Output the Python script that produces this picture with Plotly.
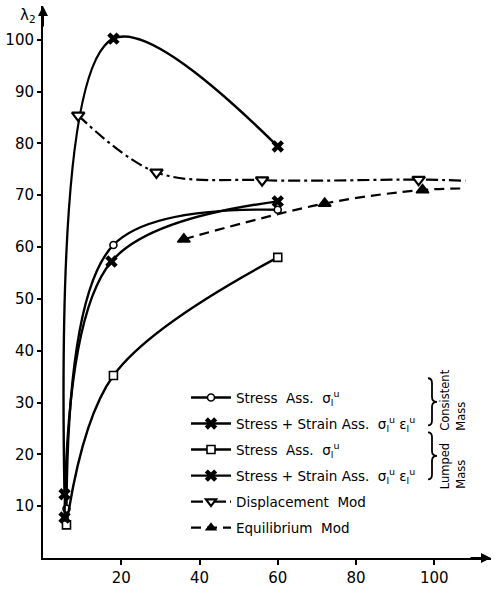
import plotly.graph_objects as go

# ---- data ----
cons_stress_x = [6, 18, 60]
cons_stress_y = [9.5, 60.4, 67.2]
cons_ss_x = [5.5, 18, 60]
cons_ss_y = [12.3, 100.2, 79.4]
lump_stress_x = [6, 18, 60]
lump_stress_y = [6.4, 35.2, 58.0]
lump_ss_x = [5.5, 17.5, 60]
lump_ss_y = [7.8, 57.2, 68.8]
disp_x = [9, 29, 56, 96, 108]
disp_y = [85.4, 74.4, 72.9, 73.0, 72.8]
disp_marked = [1, 1, 1, 1, 0]
equil_x = [36, 72, 97, 108]
equil_y = [61.5, 68.4, 71.0, 71.3]
equil_marked = [1, 1, 1, 0]

x_ticks = [20, 40, 60, 80, 100]
y_ticks = [10, 20, 30, 40, 50, 60, 70, 80, 90, 100]

sig = "σ<sub>l</sub><sup>u</sup>"
eps = "ε<sub>l</sub><sup>u</sup>"
labels = [
    f"Stress  Ass.  {sig}",
    f"Stress + Strain Ass.  {sig} {eps}",
    f"Stress  Ass.  {sig}",
    f"Stress + Strain Ass.  {sig} {eps}",
    "Displacement  Mod",
    "Equilibrium  Mod",
]

# ---- layout geometry ----
W, H = 495, 591
L, R, T, B = 43, 4, 6, 23
PW, PH = W - L - R, H - T - B


def px(xp):
    return (xp - L) / PW


def py(yp):
    return (H - B - yp) / PH


FONT = "DejaVu Sans"
LW = 2.4

fig = go.Figure()

fig.add_trace(go.Scatter(
    x=cons_stress_x, y=cons_stress_y, mode="lines+markers", name=labels[0],
    line=dict(color="black", width=LW, shape="spline"),
    marker=dict(symbol="circle", size=7, color="white", opacity=1,
                line=dict(color="black", width=1.6)),
    legendgroup="g1"))
fig.add_trace(go.Scatter(
    x=cons_ss_x, y=cons_ss_y, mode="lines+markers", name=labels[1],
    line=dict(color="black", width=LW, shape="spline"),
    marker=dict(symbol="x", size=11, color="black", opacity=1, line=dict(width=0)),
    legendgroup="g2"))
fig.add_trace(go.Scatter(
    x=lump_stress_x, y=lump_stress_y, mode="lines+markers", name=labels[2],
    line=dict(color="black", width=LW, shape="spline"),
    marker=dict(symbol="square", size=8, color="white", opacity=1,
                line=dict(color="black", width=1.6)),
    legendgroup="g3"))
fig.add_trace(go.Scatter(
    x=lump_ss_x, y=lump_ss_y, mode="lines+markers", name=labels[3],
    line=dict(color="black", width=LW, shape="spline"),
    marker=dict(symbol="x", size=11, color="black", opacity=1, line=dict(width=0)),
    legendgroup="g4"))
fig.add_trace(go.Scatter(
    x=disp_x, y=disp_y, mode="lines+markers", name=labels[4],
    line=dict(color="black", width=2.2, shape="spline", dash="12px,4px,3px,4px"),
    marker=dict(symbol="triangle-down", size=[11 * m for m in disp_marked], color="white",
                opacity=1, line=dict(color="black", width=2.2)),
    legendgroup="g5"))
fig.add_trace(go.Scatter(
    x=equil_x, y=equil_y, mode="lines+markers", name=labels[5],
    line=dict(color="black", width=2.2, shape="spline", dash="10px,6px"),
    marker=dict(symbol="triangle-up", size=[11 * m for m in equil_marked], color="black",
                opacity=1, line=dict(color="black", width=1.5)),
    legendgroup="g6"))

# braces and vertical group labels


def brace(top, bot, xl=428, xs=432, xt=437):
    mid = (top + bot) / 2
    pts = [
        ("M", [(xl, top)]),
        ("Q", [(xs, top), (xs, top + 5)]),
        ("L", [(xs, mid - 5)]),
        ("Q", [(xs, mid), (xt, mid)]),
        ("Q", [(xs, mid), (xs, mid + 5)]),
        ("L", [(xs, bot - 5)]),
        ("Q", [(xs, bot), (xl, bot)]),
    ]
    s = ""
    for cmd, pp in pts:
        s += cmd + " " + " ".join(f"{px(a):.5f},{py(b):.5f}" for a, b in pp) + " "
    return s.strip()


shapes = [
    dict(type="path", xref="paper", yref="paper", path=brace(385, 433),
         line=dict(color="black", width=1.8)),
    dict(type="path", xref="paper", yref="paper", path=brace(440, 488),
         line=dict(color="black", width=1.8)),
]

ann = []
for word, xc, yb in [("Consistent", 445, 441), ("Mass", 461, 441),
                     ("Lumped", 445, 500), ("Mass", 461, 500)]:
    ann.append(dict(text=word, xref="paper", yref="paper", x=px(xc), y=py(yb),
                    xanchor="center", yanchor="bottom", textangle=-90, showarrow=False,
                    font=dict(family=FONT, size=11.5, color="black")))

# y label
ann.append(dict(text="λ<sub>2</sub>", xref="paper", yref="paper", x=px(28), y=py(16),
                xanchor="center", yanchor="middle", showarrow=False,
                font=dict(family=FONT, size=15, color="black")))
# axis arrows
ann.append(dict(x=0, y=106.5, xref="x", yref="y", ax=0, ay=22, text="", showarrow=True,
                arrowhead=2, arrowsize=1, arrowwidth=2, arrowcolor="black"))
ann.append(dict(x=114.5, y=0, xref="x", yref="y", ax=-22, ay=0, text="", showarrow=True,
                arrowhead=2, arrowsize=1, arrowwidth=2, arrowcolor="black"))

fig.update_layout(
    width=W, height=H,
    margin=dict(l=L, r=R, t=T, b=B),
    paper_bgcolor="white", plot_bgcolor="white",
    font=dict(family=FONT, size=15, color="black"),
    showlegend=True,
    legend=dict(x=px(186), y=py(389), xanchor="left", yanchor="top",
                bgcolor="rgba(0,0,0,0)", borderwidth=0, tracegroupgap=5.5,
                itemwidth=40, font=dict(family=FONT, size=13.5, color="black")),
    shapes=shapes,
    annotations=ann,
    xaxis=dict(range=[0, 114.5], showgrid=False, zeroline=False, showline=True,
               linecolor="black", linewidth=2, ticks="outside", ticklen=5, tickwidth=1.5,
               tickcolor="black", tickvals=x_ticks, ticktext=[str(v) for v in x_ticks],
               tickfont=dict(family=FONT, size=15)),
    yaxis=dict(range=[0, 106.5], showgrid=False, zeroline=False, showline=True,
               linecolor="black", linewidth=2, ticks="outside", ticklen=4, tickwidth=1.5,
               tickcolor="black", tickvals=y_ticks, ticktext=[str(v) for v in y_ticks],
               tickfont=dict(family=FONT, size=15)),
)

fig.write_html("out.html")
